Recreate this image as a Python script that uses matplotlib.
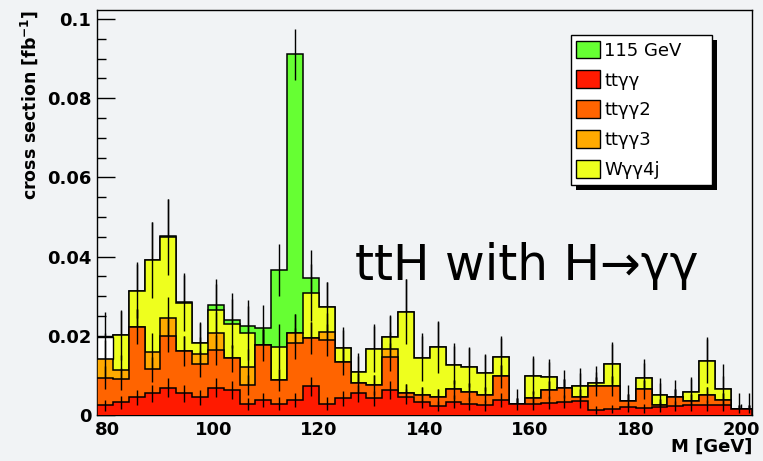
import numpy as np
import matplotlib.pyplot as plt
from matplotlib.patches import Patch, Rectangle
from matplotlib.ticker import MultipleLocator

# 3 GeV mass bins, the last one cut at the axis end
edges = np.append(np.arange(78, 202, 3), 202)

# cross section per bin [fb^-1] for each process, bottom of the stack first
tt_gg = [.0025, .0032, .0045, .0055, .0069, .0055, .0045, .0069, .0063, .0027,
         .0038, .0029, .0038, .0073, .0029, .0042, .0055, .0042, .0063, .0046,
         .0034, .0023, .0034, .0029, .0025, .0038, .0028, .0028, .0031, .0034,
         .0035, .0013, .0015, .0019, .0017, .0021, .0023, .0025, .0025, .0025,
         .0015, .0015]
tt_gg2 = [.0069, .0059, .0178, .0061, .0131, .0107, .0083, .0095, .0080, .0049,
          .0139, .0059, .0143, .0121, .0160, .0093, .0025, .0034, .0084, .0010,
          .0016, .0023, .0031, .0030, .0025, .0060, 0, .0014, .0032, .0033,
          .0011, .0059, .0058, .0017, .0048, .0004, .0023, .0011, .0025, .0013,
          0, 0]
tt_gg3 = [.0047, .0023, 0, .0044, .0044, 0, .0025, .0044, 0, .0046,
          0, 0, .0025, 0, .0021, 0, 0, 0, .0019, 0,
          0, 0, 0, 0, 0, 0, 0, 0, 0, 0,
          0, 0, 0, 0, 0, 0, 0, 0, 0, 0,
          0, 0]
w_gg4j = [.0057, .0088, .0091, .0231, .0205, .0120, .0030, .0057, .0087, .0086,
          0, .0085, 0, .0115, .0062, .0033, .0029, .0090, .0032, .0205,
          .0093, .0125, .0061, .0061, .0055, .0048, 0, .0056, .0033, 0,
          .0026, .0008, .0057, 0, .0028, .0025, 0, .0023, .0087, .0027,
          0, 0]
higgs115 = [0, 0, 0, 0, .0004, .0004, 0, .0013, .0010, .0017,
            .0044, .0193, .0705, .0036, 0, 0, 0, 0, 0, 0,
            0, 0, 0, 0, 0, 0, 0, 0, 0, 0,
            0, 0, 0, 0, 0, 0, 0, 0, 0, 0,
            0, 0]
# statistical error on the summed stack
err_total = [.0010, .0061, .0072, .0097, .0092, .0072, .0050, .0065, .0069, .0065,
             .0057, .0066, .0065, .0073, .0065, .0055, .0047, .0065, .0055, .0082,
             .0063, .0067, .0055, .0053, .0049, .0054, .0037, .0051, .0045, .0047,
             .0046, .0044, .0055, .0040, .0048, .0043, .0042, .0038, .0059, .0065,
             .0041, .0041]
# MC event weight of each background sample (error = sqrt(w * content))
mc_weight = [8e-4, 9e-4, 3e-3, 3e-3]
# bins where the W sample was drawn without fill
empty_fill_bins = [0]

names = ['ttγγ', 'ttγγ2', 'ttγγ3', 'Wγγ4j', '115 GeV']
colors = ['#ff1a00', '#ff6400', '#ffaa00', '#eeff1e', '#66ff33']

bg = '#f1f3f5'
fig = plt.figure(figsize=(7.63, 4.61), dpi=100, facecolor=bg)
ax = fig.add_axes([97 / 763, 46 / 461, 655 / 763, 405 / 461])
ax.set_facecolor('none')

layers = np.array([tt_gg, tt_gg2, tt_gg3, w_gg4j, higgs115])
cum = np.cumsum(layers, axis=0)
centers = 0.5 * (edges[1:] + edges[:-1])

# error on each cumulative histogram
errs = []
var = np.zeros(len(centers))
for w, c in zip(mc_weight, layers[:4]):
    var = var + w * c
    errs.append(np.sqrt(var))
errs.append(np.array(err_total))

# draw from the full stack down so each lower histogram covers the one above
for i in range(4, -1, -1):
    z = 2 + (4 - i)
    ax.stairs(cum[i], edges, fill=True, facecolor=colors[i], edgecolor='none',
              zorder=z)
    ax.stairs(cum[i], edges, fill=False, color='k', lw=1.1, baseline=0,
              zorder=z + 0.1)
    if i == 3:
        sel = np.array(empty_fill_bins)
        ax.bar(centers[sel], cum[3][sel] - cum[2][sel], bottom=cum[2][sel],
               width=3, facecolor='white', edgecolor='k', lw=1.0, zorder=z + 0.2)
    ax.vlines(centers, cum[i] - errs[i], cum[i] + errs[i], color='k', lw=1.0,
              zorder=z + 0.3)

ax.set_xlim(78, 202)
ax.set_ylim(0, 0.1023)

ax.set_xticks(np.arange(80, 201, 20))
ax.set_yticks([0, 0.02, 0.04, 0.06, 0.08, 0.1])
ax.set_yticklabels(['0', '0.02', '0.04', '0.06', '0.08', '0.1'])
ax.xaxis.set_minor_locator(MultipleLocator(5))
ax.yaxis.set_minor_locator(MultipleLocator(0.005))
ax.tick_params(axis='both', which='both', direction='in', top=False, right=False,
               width=1.0, labelsize=13)
ax.tick_params(axis='y', which='major', length=13, pad=4)
ax.tick_params(axis='y', which='minor', length=6.5)
ax.tick_params(axis='x', which='major', length=8, pad=4)
ax.tick_params(axis='x', which='minor', length=4.5)
for lab in ax.get_xticklabels() + ax.get_yticklabels():
    lab.set_fontweight('bold')
for sp in ax.spines.values():
    sp.set_linewidth(1.0)

ax.set_xlabel('M [GeV]', loc='right', fontsize=13, fontweight='bold')
ax.xaxis.set_label_coords(1.0, -0.056)
ax.set_ylabel('cross section [fb$^{\\mathbf{-1}}$]', loc='top', fontsize=12.5,
              fontweight='bold')
ax.yaxis.set_label_coords(-0.087, 1.0)

ax.text(126.8, 0.0341, 'ttH with H→γγ', fontsize=35, family='DejaVu Sans',
        zorder=10)

order = [4, 0, 1, 2, 3]
handles = [Patch(facecolor=colors[i], edgecolor='k', lw=1.0) for i in order]
leg = ax.legend(handles, [names[i] for i in order], loc='upper left',
                bbox_to_anchor=(0.7237, 0.563, 0.2153, 0.375), mode='expand',
                borderaxespad=0, fancybox=False, edgecolor='k', framealpha=1,
                prop={'family': 'DejaVu Sans', 'size': 13}, handlelength=1.3,
                handleheight=1.15, labelspacing=0.6, handletextpad=0.25,
                borderpad=0.3)
leg.get_frame().set_linewidth(1.0)
leg.set_zorder(20)

# solid drop shadow behind the legend box
fig.canvas.draw()
bb = leg.get_window_extent()
ax.add_patch(Rectangle((bb.x0 + 5, bb.y0 - 5), bb.width, bb.height,
                       transform=None, facecolor='k', edgecolor='none',
                       clip_on=False, zorder=19))

fig.savefig('out.png', dpi=100, facecolor=bg)
